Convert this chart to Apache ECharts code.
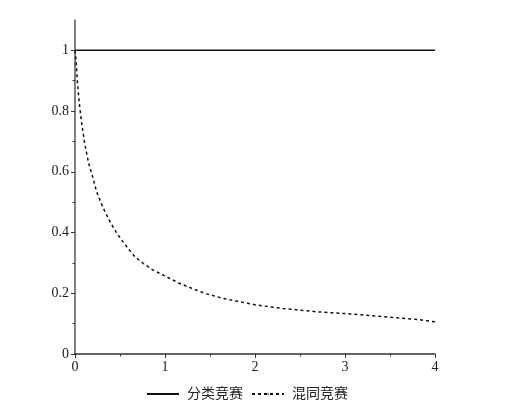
<!DOCTYPE html>
<html>
<head>
<meta charset="utf-8">
<script src="https://cdn.jsdelivr.net/npm/echarts@6/dist/echarts.min.js"></script>
<style>html,body{margin:0;padding:0;background:#fff}#c{width:506px;height:402px}</style>
</head>
<body>
<div id="c"></div>
<script>
const seriesNames = ['分类竞赛', '混同竞赛'];
const solidX = [0, 4];
const solidY = [1, 1];
const dashX = [0, 0.011, 0.026, 0.048, 0.074, 0.11, 0.15, 0.197, 0.24, 0.315, 0.39, 0.46, 0.52, 0.59, 0.667, 0.76, 0.87, 0.98, 1.15, 1.30, 1.46, 1.65, 1.83, 2.02, 2.31, 2.69, 3.06, 3.43, 3.80, 4.0];
const dashY = [1.0, 0.97, 0.90, 0.825, 0.76, 0.69, 0.63, 0.583, 0.534, 0.48, 0.435, 0.40, 0.375, 0.347, 0.32, 0.298, 0.276, 0.26, 0.234, 0.216, 0.198, 0.183, 0.172, 0.161, 0.150, 0.139, 0.132, 0.123, 0.114, 0.106];
const yLabelValues = [0, 0.2, 0.4, 0.6, 0.8, 1];
const yMinorValues = [0.1, 0.3, 0.5, 0.7, 0.9];

const font = "'Liberation Serif', 'Noto Sans CJK SC', serif";
const chart = echarts.init(document.getElementById('c'));
const zip = (a, b) => a.map((v, i) => [v, b[i]]);
chart.setOption({
  animation: false,
  grid: { left: 75, right: 71, top: 20, bottom: 48 },
  legend: {
    top: 382, left: 141,
    itemWidth: 32, itemHeight: 2, itemGap: 8,
    textStyle: { fontFamily: font, fontSize: 14, color: '#222', padding: [0, 0, 0, 3] },
    data: seriesNames
  },
  xAxis: {
    type: 'value', min: 0, max: 4, interval: 1,
    axisLine: { lineStyle: { color: '#333', width: 1.5 } },
    axisTick: { length: 4, lineStyle: { color: '#333' } },
    minorTick: { show: true, splitNumber: 2, length: 2.5, lineStyle: { color: '#333' } },
    splitLine: { show: false },
    axisLabel: { fontFamily: font, fontSize: 14, color: '#222', margin: 6 }
  },
  yAxis: [{
    type: 'value', min: 0, max: 1.1,
    axisLine: { show: true, lineStyle: { color: '#555', width: 1.5 } },
    axisTick: { show: true, length: 4, customValues: yLabelValues, lineStyle: { color: '#333' } },
    splitLine: { show: false },
    axisLabel: { customValues: yLabelValues, fontFamily: font, fontSize: 14, color: '#222', margin: 6 }
  }, {
    type: 'value', min: 0, max: 1.1, position: 'left',
    axisLine: { show: false },
    axisTick: { show: true, length: 2.5, customValues: yMinorValues, lineStyle: { color: '#333' } },
    splitLine: { show: false },
    axisLabel: { show: false }
  }],
  series: [{
    name: seriesNames[0], type: 'line', symbol: 'none',
    data: zip(solidX, solidY),
    lineStyle: { color: '#111', width: 1.5, type: 'solid' },
    itemStyle: { color: '#111' }
  }, {
    name: seriesNames[1], type: 'line', symbol: 'none', smooth: false,
    data: zip(dashX, dashY),
    lineStyle: { color: '#111', width: 1.5, type: [3, 3] },
    itemStyle: { color: '#111' }
  }]
});
</script>
</body>
</html>
